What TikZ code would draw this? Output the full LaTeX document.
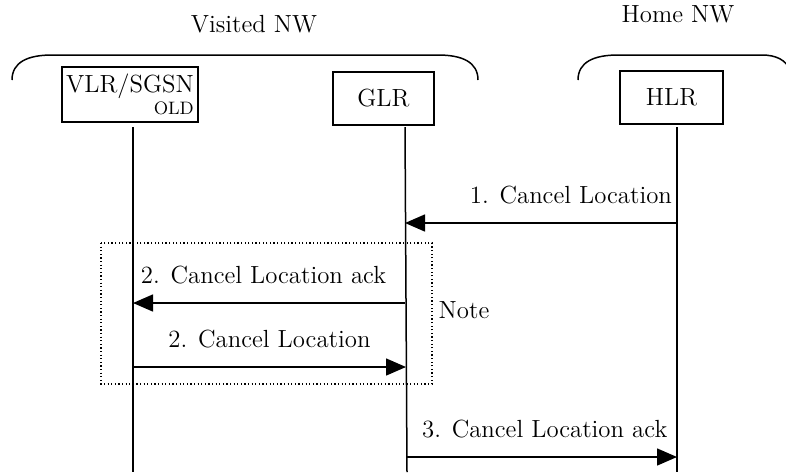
\documentclass[tikz,border=0pt]{standalone}
\usetikzlibrary{arrows.meta}
\begin{document}
\begin{tikzpicture}[
    x=0.5pt, y=-0.5pt,
    >={Triangle[length=10pt,width=8.5pt]},
    every node/.style={font=\fontsize{12.4}{15}\selectfont, align=center},
    entity/.style={rectangle, draw, line width=0.75pt, inner sep=2pt},
    life/.style={line width=0.75pt},
    msg/.style={->, line width=0.75pt},
    group/.style={line width=0.75pt},
    notebox/.style={line width=0.6pt, dash pattern=on 0.6pt off 1.2pt}
  ]
  \useasboundingbox (0,0) rectangle (786,472);

  % network groups
  \node (visited) at (254,24) {Visited NW};
  \node (home) at (678,14) {Home NW};
  \draw[group] (12,80) .. controls (12,62) and (28,55) .. (52,55) -- (438,55)
    .. controls (462,55) and (478,62) .. (478,80);
  \draw[group] (578,80) .. controls (578,62) and (594,55) .. (618,55) -- (762,55)
    .. controls (776,55) and (786,60) .. (790,70);

  % entities
  \node[entity, minimum width=67pt, minimum height=27.5pt, align=right] (vlr) at (130,94.5)
    {VLR/SGSN\\[-4pt]{\fontsize{9}{10}\selectfont OLD}};
  \node[entity, minimum width=50.5pt, minimum height=26.5pt] (glr) at (383.5,98.5) {GLR};
  \node[entity, minimum width=51.5pt, minimum height=26.5pt] (hlr) at (671.5,97.5) {HLR};

  % lifelines
  \coordinate (vlr-top) at (133,127);
  \coordinate (vlr-bot) at (133,472);
  \coordinate (glr-top) at (405,127);
  \coordinate (glr-bot) at (407,472);
  \coordinate (hlr-top) at (677,127);
  \coordinate (hlr-bot) at (677,472);
  \draw[life] (vlr-top) -- (vlr-bot);
  \draw[life] (glr-top) -- (glr-bot);
  \draw[life] (hlr-top) -- (hlr-bot);

  % message points
  \coordinate (hlr-m1) at (677,223);
  \coordinate (glr-m1) at (405,223);
  \coordinate (glr-m2) at (405,303);
  \coordinate (vlr-m2) at (133,303);
  \coordinate (vlr-m3) at (133,367);
  \coordinate (glr-m3) at (406,367);
  \coordinate (glr-m4) at (407,457);
  \coordinate (hlr-m4) at (677,457);

  \draw[msg] (hlr-m1) -- node[above=6pt, pos=0.39] {1. Cancel Location} (glr-m1);
  \draw[msg] (glr-m2) -- node[above=6pt, pos=0.52] {2. Cancel Location ack} (vlr-m2);
  \draw[msg] (vlr-m3) -- node[above=6pt] {2. Cancel Location} (glr-m3);
  \draw[msg] (glr-m4) -- node[above=6pt, pos=0.51] {3. Cancel Location ack} (hlr-m4);

  % note
  \draw[notebox] (101,243) rectangle (432,384);
  \node (note) at (464,310) {Note};
\end{tikzpicture}
\end{document}
